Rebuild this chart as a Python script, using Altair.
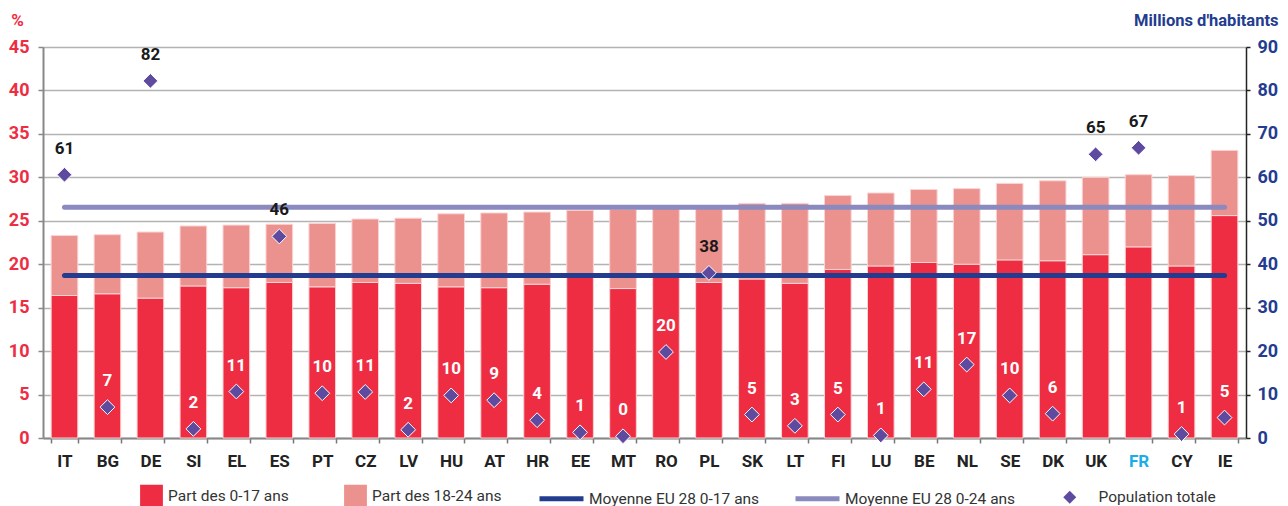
import altair as alt
import pandas as pd

countries = ["IT", "BG", "DE", "SI", "EL", "ES", "PT", "CZ", "LV", "HU", "AT", "HR", "EE", "MT",
             "RO", "PL", "SK", "LT", "FI", "LU", "BE", "NL", "SE", "DK", "UK", "FR", "CY", "IE"]
part_0_17 = [16.4, 16.6, 16.1, 17.5, 17.3, 17.9, 17.4, 17.9, 17.8, 17.4, 17.3, 17.7, 18.7, 17.2,
             18.7, 17.9, 18.3, 17.8, 19.4, 19.8, 20.2, 20.0, 20.5, 20.4, 21.1, 22.0, 19.8, 25.6]
part_0_24 = [23.3, 23.4, 23.7, 24.4, 24.5, 24.6, 24.7, 25.2, 25.3, 25.8, 25.9, 26.0, 26.2, 26.3,
             26.5, 26.4, 27.0, 27.0, 27.9, 28.2, 28.6, 28.7, 29.3, 29.6, 30.0, 30.3, 30.2, 33.1]
population = [60.6, 7.1, 82.2, 2.1, 10.7, 46.4, 10.3, 10.6, 1.9, 9.8, 8.7, 4.1, 1.3, 0.4,
              19.8, 38.0, 5.4, 2.8, 5.4, 0.6, 11.2, 16.9, 9.8, 5.6, 65.3, 66.8, 0.9, 4.7]
pop_labels = [61, 7, 82, 2, 11, 46, 10, 11, 2, 10, 9, 4, 1, 0, 20, 38, 5, 3, 5, 1, 11, 17, 10, 6, 65, 67, 1, 5]
moyenne_0_17 = 18.7
moyenne_0_24 = 26.55

serie_names = ["Part des 0-17 ans", "Part des 18-24 ans"]
line_names = ["Moyenne EU 28 0-17 ans", "Moyenne EU 28 0-24 ans"]
pop_name = "Population totale"

RED = "#EE2D43"
PINK = "#EB918E"
NAVY = "#233C8F"
LAV = "#8A8ABE"
PURPLE = "#5E4A9F"
FONT = "Roboto"

rows = []
for c, a, t in zip(countries, part_0_17, part_0_24):
    rows.append({"pays": c, "part": serie_names[0], "lo": 0.0, "hi": a})
    rows.append({"pays": c, "part": serie_names[1], "lo": a, "hi": t})
bars_df = pd.DataFrame(rows)

lines_df = pd.DataFrame([
    {"pays": countries[0], "moyenne": line_names[0], "v": moyenne_0_17},
    {"pays": countries[-1], "moyenne": line_names[0], "v": moyenne_0_17},
    {"pays": countries[0], "moyenne": line_names[1], "v": moyenne_0_24},
    {"pays": countries[-1], "moyenne": line_names[1], "v": moyenne_0_24},
])

pop_df = pd.DataFrame({"pays": countries, "pop": population, "lab": pop_labels,
                       "popserie": [pop_name] * len(countries)})

W, H = 1203, 391

xscale = alt.Scale(domain=countries, paddingInner=0.38, paddingOuter=0.19)
xaxis = alt.Axis(title=None, labelFont=FONT, labelFontSize=17, labelFontWeight="bold",
                 labelColor={"condition": {"test": "datum.value == 'FR'", "value": "#1AAEE8"}, "value": "#222222"},
                 labelPadding=10, labelAngle=0, tickBand="extent", tickSize=5, tickColor="#777777",
                 tickWidth=1.5, domainColor="#888888", domainWidth=2)
X = alt.X("pays:N", scale=xscale, axis=xaxis, sort=countries)

yleft_scale = alt.Scale(domain=[0, 45], nice=False)
yleft_axis = alt.Axis(title="%", titleAngle=0, titleX=-26, titleY=-27, titleAlign="center",
                      titleBaseline="middle", titleColor=RED, titleFont=FONT, titleFontSize=17,
                      titleFontWeight="bold", values=list(range(0, 50, 5)), labelFont=FONT,
                      labelFontSize=18, labelFontWeight="bold", labelColor=RED, labelPadding=9,
                      tickSize=5, tickColor="#888888", tickWidth=1.5, domainColor="#888888",
                      domainWidth=2, grid=True, gridColor="#b3b3b3", gridWidth=1.5)

LEG_C = 449  # vertical centre of legend rows, relative to plot top
leg_common = dict(title=None, orient="none", direction="horizontal",
                  labelFont=FONT, labelFontSize=15.5, labelColor="#333333", padding=0,
                  labelLimit=300)

bars = alt.Chart(bars_df).mark_bar(stroke="#fbd3d3", strokeWidth=1).encode(
    x=X,
    y=alt.Y("lo:Q", scale=yleft_scale, axis=yleft_axis),
    y2="hi:Q",
    fill=alt.Fill("part:N", scale=alt.Scale(domain=serie_names, range=[RED, PINK]),
                  legend=alt.Legend(legendX=97, legendY=LEG_C - 11.4, symbolType="square",
                                    symbolSize=520, symbolStrokeWidth=0, labelOffset=5,
                                    columnPadding=55, **leg_common)),
)

lines = alt.Chart(lines_df).mark_line(strokeWidth=5, strokeCap="round").encode(
    x=X,
    y=alt.Y("v:Q", scale=yleft_scale),
    color=alt.Color("moyenne:N", scale=alt.Scale(domain=line_names, range=[NAVY, LAV]),
                    legend=alt.Legend(legendX=494, legendY=LEG_C - 22, symbolType="stroke",
                                      symbolSize=1936, symbolStrokeWidth=5, labelOffset=3,
                                      columnPadding=25, **leg_common)),
)

yright_scale = alt.Scale(domain=[0, 90], nice=False)
yright_axis = alt.Axis(orient="right", title="Millions d'habitants", titleAngle=0, titleX=32,
                       titleY=-27, titleAlign="right", titleBaseline="middle", titleColor=NAVY,
                       titleFont=FONT, titleFontSize=16.5, titleFontWeight="bold",
                       values=list(range(0, 100, 10)), labelFont=FONT, labelFontSize=18,
                       labelFontWeight="bold", labelColor=NAVY, labelPadding=7, tickSize=4,
                       tickColor="#222222", tickWidth=1.5, domainColor="#222222", domainWidth=1.5,
                       grid=False)

points = alt.Chart(pop_df).mark_point(filled=True, fill=PURPLE, stroke="white", strokeWidth=1,
                                      opacity=1, size=220).encode(
    x=X,
    y=alt.Y("pop:Q", scale=yright_scale, axis=yright_axis),
    shape=alt.Shape("popserie:N", scale=alt.Scale(domain=[pop_name], range=["diamond"]),
                    legend=alt.Legend(legendX=1019, legendY=LEG_C - 6.5, symbolSize=170,
                                      symbolFillColor=PURPLE, symbolStrokeWidth=0,
                                      labelOffset=21, **leg_common)),
)

labels = alt.Chart(pop_df).mark_text(dy=-26, font=FONT, fontSize=17, fontWeight="bold",
                                     baseline="middle", align="center").encode(
    x=X,
    y=alt.Y("pop:Q", scale=yright_scale),
    text=alt.Text("lab:Q", format="d"),
    color=alt.condition(alt.datum.pop > 30, alt.value("#1a1a1a"), alt.value("white")),
)

left = alt.layer(bars, lines)
right = alt.layer(points, labels)

chart = alt.layer(left, right).resolve_scale(y="independent").properties(
    width=W, height=H,
    autosize=alt.AutoSizeParams(type="none"),
    padding={"left": 35, "top": 39, "right": 34, "bottom": 68},
).configure_view(stroke=None).configure(background="white")

chart.save("out.html", embed_options={"renderer": "svg", "actions": False})
